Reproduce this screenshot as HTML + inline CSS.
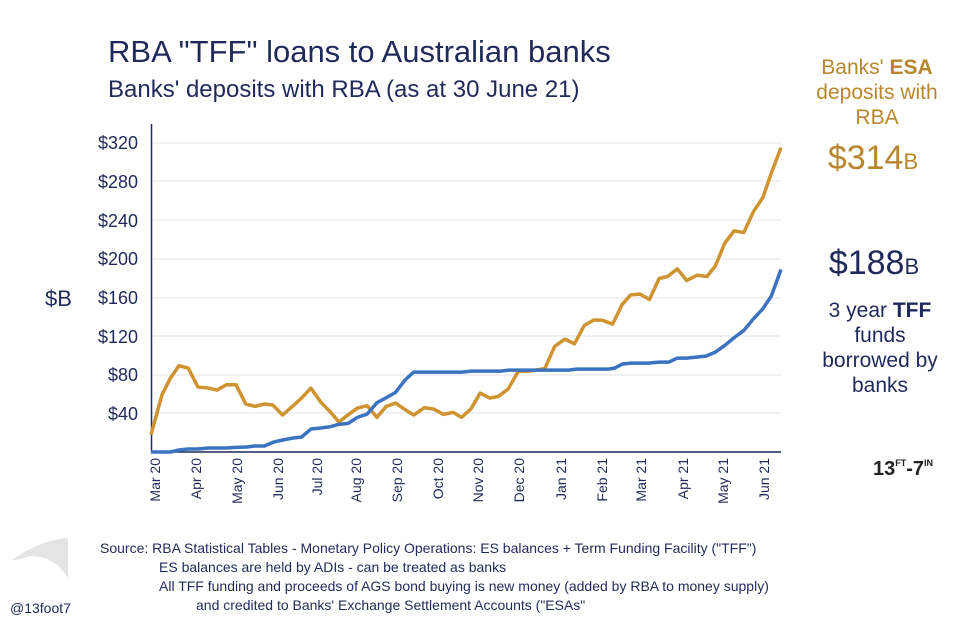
<!DOCTYPE html>
<html><head><meta charset="utf-8"><style>
body{margin:0;background:#fff}
svg{display:block;font-family:"Liberation Sans",sans-serif}
</style></head><body>
<svg width="975" height="636" viewBox="0 0 975 636">
<rect width="975" height="636" fill="#fff"/>
<text x="108" y="62" font-size="31" fill="#1f2a5a">RBA "TFF" loans to Australian banks</text>
<text x="108" y="97" font-size="24" fill="#1f2a5a">Banks' deposits with RBA (as at 30 June 21)</text>
<g stroke="#e3e3e3" stroke-width="1">
<line x1="152" x2="781" y1="143" y2="143"/><line x1="152" x2="781" y1="181" y2="181"/>
<line x1="152" x2="781" y1="220" y2="220"/><line x1="152" x2="781" y1="259" y2="259"/>
<line x1="152" x2="781" y1="298" y2="298"/><line x1="152" x2="781" y1="336" y2="336"/>
<line x1="152" x2="781" y1="375" y2="375"/><line x1="152" x2="781" y1="413" y2="413"/>
</g>
<line x1="151.5" y1="124" x2="151.5" y2="452" stroke="#1f2a5a" stroke-width="1.5"/>
<line x1="151" y1="452" x2="781" y2="452" stroke="#1f2a5a" stroke-width="1.5"/>
<g font-size="18" fill="#1f2a5a" text-anchor="end">
<text x="138" y="149">$320</text><text x="138" y="188">$280</text><text x="138" y="227">$240</text>
<text x="138" y="265">$200</text><text x="138" y="304">$160</text><text x="138" y="343">$120</text>
<text x="138" y="381">$80</text><text x="138" y="420">$40</text>
</g>
<text x="45" y="306" font-size="22" fill="#1f2a5a">$B</text>
<g font-size="14" fill="#1f2a5a" text-anchor="end">
<text transform="translate(160,458) rotate(-90)">Mar 20</text>
<text transform="translate(201,458) rotate(-90)">Apr 20</text>
<text transform="translate(242,458) rotate(-90)">May 20</text>
<text transform="translate(283,458) rotate(-90)">Jun 20</text>
<text transform="translate(322,458) rotate(-90)">Jul 20</text>
<text transform="translate(361,458) rotate(-90)">Aug 20</text>
<text transform="translate(402,458) rotate(-90)">Sep 20</text>
<text transform="translate(443,458) rotate(-90)">Oct 20</text>
<text transform="translate(483,458) rotate(-90)">Nov 20</text>
<text transform="translate(524,458) rotate(-90)">Dec 20</text>
<text transform="translate(566,458) rotate(-90)">Jan 21</text>
<text transform="translate(607,458) rotate(-90)">Feb 21</text>
<text transform="translate(646,458) rotate(-90)">Mar 21</text>
<text transform="translate(688,458) rotate(-90)">Apr 21</text>
<text transform="translate(728,458) rotate(-90)">May 21</text>
<text transform="translate(769,458) rotate(-90)">Jun 21</text>
</g>
<svg x="151" y="120" width="630" height="332" viewBox="34 0 1489 997" preserveAspectRatio="none" overflow="visible">
<polyline fill="none" stroke="#cf9330" stroke-width="3.5" vector-effect="non-scaling-stroke" stroke-linejoin="round" points="34,945 60,825 80,775 100,738 122,745 145,802 170,805 190,811 212,795 235,795 258,853 280,860 302,853 322,856 345,886 370,858 390,835 412,805 435,847 458,877 478,907 500,885 522,865 545,858 568,893 590,860 612,850 635,870 655,886 680,864 702,868 725,884 748,878 768,893 790,868 812,820 835,835 855,830 878,808 902,755 925,755 965,746 988,680 1012,658 1035,672 1058,617 1080,601 1100,601 1125,613 1148,553 1168,525 1190,523 1212,539 1235,476 1255,470 1278,447 1300,482 1325,466 1348,470 1368,438 1390,370 1412,333 1435,338 1458,275 1480,233 1500,160 1523,83"/>
<polyline fill="none" stroke="#3b73c0" stroke-width="3.5" vector-effect="non-scaling-stroke" stroke-linejoin="round" points="34,997 80,997 100,991 122,988 145,988 170,985 210,985 235,983 260,982 280,979 302,979 322,968 345,961 370,955 390,952 412,928 435,925 458,921 478,914 500,911 522,893 545,883 568,849 590,834 612,818 635,780 655,757 770,757 790,754 860,754 880,751 1020,751 1040,748 1115,748 1130,745 1148,733 1168,730 1210,730 1235,727 1258,727 1278,715 1300,715 1345,709 1368,697 1390,677 1412,654 1435,632 1458,597 1480,567 1500,529 1523,449"/>
</svg>
<g text-anchor="middle" fill="#b8862e" font-size="21">
<text x="877" y="74">Banks' <tspan font-weight="bold">ESA</tspan></text>
<text x="877" y="99">deposits with</text>
<text x="877" y="124">RBA</text>
<text x="873" y="169" font-size="34">$314<tspan font-size="22">B</tspan></text>
</g>
<g text-anchor="middle" fill="#1f2a5a" font-size="21">
<text x="874" y="274" font-size="34">$188<tspan font-size="22">B</tspan></text>
<text x="880" y="317">3 year <tspan font-weight="bold">TFF</tspan></text>
<text x="880" y="342">funds</text>
<text x="880" y="367">borrowed by</text>
<text x="880" y="392">banks</text>
</g>
<text x="873" y="475" font-size="20" fill="#222" font-weight="bold">13<tspan font-size="9" dy="-9">FT</tspan><tspan dy="9">-7</tspan><tspan font-size="9" dy="-9">IN</tspan></text>
<path d="M12 560 Q40 540 68 538 L68 578 Q55 556 30 556 Q18 560 12 560Z" fill="#e4e4e4"/>
<text x="10" y="613" font-size="14" fill="#1f2a5a">@13foot7</text>
<g font-size="14" fill="#1f2a5a">
<text x="100" y="553">Source:  RBA Statistical Tables - Monetary Policy Operations:  ES balances + Term Funding Facility ("TFF")</text>
<text x="159" y="572">ES balances are held by ADIs - can be treated as banks</text>
<text x="159" y="591">All TFF funding and proceeds of AGS bond buying is new money (added by RBA to money supply)</text>
<text x="196" y="610">and credited to Banks' Exchange Settlement Accounts ("ESAs"</text>
</g>
</svg>
</body></html>
